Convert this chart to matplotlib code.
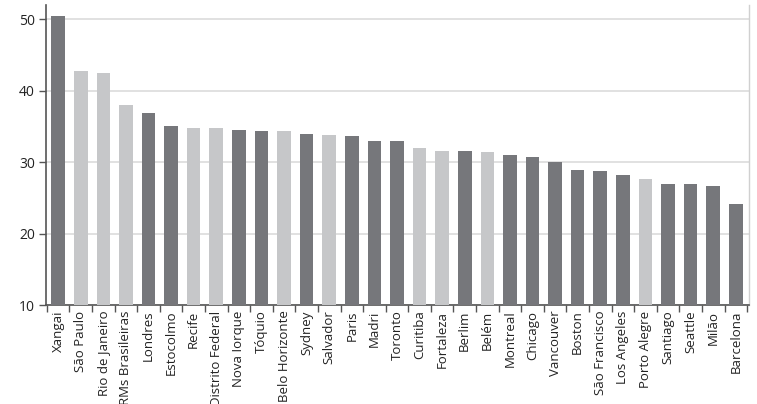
import matplotlib
matplotlib.use("Agg")
import matplotlib.pyplot as plt
import numpy as np

cities = ["Xangai", "São Paulo", "Rio de Janeiro", "RMs Brasileiras", "Londres", "Estocolmo",
          "Recife", "Distrito Federal", "Nova Iorque", "Tóquio", "Belo Horizonte", "Sydney",
          "Salvador", "Paris", "Madri", "Toronto", "Curitiba", "Fortaleza", "Berlim", "Belém",
          "Montreal", "Chicago", "Vancouver", "Boston", "São Francisco", "Los Angeles",
          "Porto Alegre", "Santiago", "Seattle", "Milão", "Barcelona"]
values = [50.4, 42.7, 42.5, 38.0, 36.9, 35.0, 34.8, 34.8, 34.5, 34.4, 34.4, 33.9,
          33.8, 33.6, 33.0, 33.0, 32.0, 31.6, 31.5, 31.4, 31.0, 30.75, 30.0, 28.9,
          28.7, 28.2, 27.7, 27.0, 26.9, 26.7, 24.2]
brazil = [False, True, True, True, False, False, True, True, False, False, True, False,
          True, False, False, False, True, True, False, True, False, False, False, False,
          False, False, True, False, False, False, False]

dark = "#76777b"
light = "#c6c7c9"

plt.rcParams['font.family'] = ['Open Sans', 'DejaVu Sans']
fig = plt.figure(figsize=(7.57, 4.04), dpi=100)
ax = fig.add_axes([0.061, 0.245, 0.928, 0.743])

x = np.arange(len(cities))
colors = [light if b else dark for b in brazil]
ax.bar(x, np.array(values) - 10, bottom=10, width=0.6, color=colors, zorder=3)

ax.set_ylim(10, 52)
ax.set_xlim(-0.53, len(cities) - 0.43)
ax.set_yticks([10, 20, 30, 40, 50])
ax.yaxis.grid(True, color="#dcdcdc", linewidth=1.2, zorder=0)
ax.tick_params(axis='y', direction='out', length=5, width=1, color="#555555",
               labelsize=10, labelcolor="#222222", pad=3)

ax.set_xticks(x)
ax.set_xticklabels(cities, rotation=90, fontsize=9.5, color="#222222")
ax.tick_params(axis='x', which='major', length=0, pad=4)
ax.set_xticks(np.arange(-0.5, len(cities), 1.0), minor=True)
ax.tick_params(axis='x', which='minor', direction='out', length=5, width=1, color="#555555")

for s in ["left", "bottom"]:
    ax.spines[s].set_color("#555555")
    ax.spines[s].set_linewidth(1.2)
ax.spines["top"].set_visible(False)
ax.spines["right"].set_color("#d0d0d0")
ax.spines["right"].set_linewidth(1.0)

fig.savefig("out.png", dpi=100)
